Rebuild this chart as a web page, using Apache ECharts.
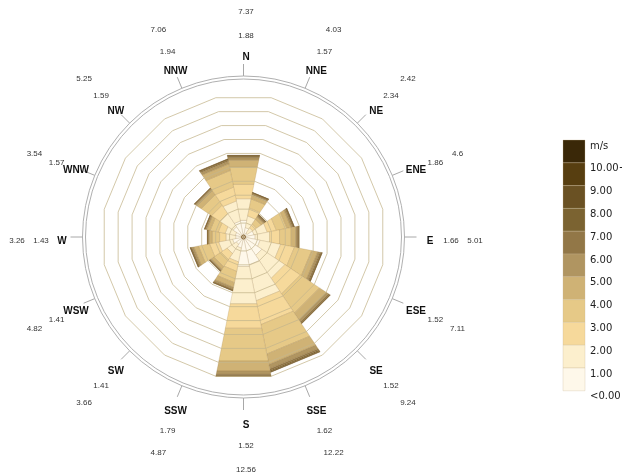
<!DOCTYPE html>
<html>
<head>
<meta charset="utf-8">
<script src="https://cdn.jsdelivr.net/npm/echarts@6/dist/echarts.min.js"></script>
<style>
  html, body { margin: 0; padding: 0; background: #ffffff; }
  #chart { width: 622px; height: 475px; }
</style>
</head>
<body>
<div id="chart"></div>
<script>
// Wind directions, clockwise from north
const directions = ['N', 'NNE', 'NE', 'ENE', 'E', 'ESE', 'SE', 'SSE', 'S', 'SSW', 'SW', 'WSW', 'W', 'WNW', 'NW', 'NNW'];
// Total frequency of each direction (%)
const frequency = [7.37, 4.03, 2.42, 4.6, 5.01, 7.11, 9.24, 12.22, 12.56, 4.87, 3.66, 4.82, 3.26, 3.54, 5.25, 7.06];
// Mean wind speed of each direction (m/s)
const meanSpeed = [1.88, 1.57, 2.34, 1.86, 1.66, 1.52, 1.52, 1.62, 1.52, 1.79, 1.41, 1.41, 1.43, 1.57, 1.59, 1.94];

// Frequency (%) of each speed class, per direction
const speed0to1  = [1.50, 0.85, 0.42, 0.95, 1.05, 1.50, 1.95, 2.55, 2.66, 1.00, 0.78, 1.00, 0.70, 0.74, 1.10, 1.45];
const speed1to2  = [1.95, 1.05, 0.55, 1.20, 1.30, 1.85, 2.45, 3.20, 3.36, 1.25, 0.98, 1.25, 0.88, 0.92, 1.38, 1.80];
const speed2to3  = [1.30, 0.72, 0.42, 0.82, 0.90, 1.25, 1.65, 2.15, 2.21, 0.85, 0.64, 0.82, 0.58, 0.62, 0.92, 1.25];
const speed3to4  = [1.55, 0.82, 0.50, 0.95, 1.05, 1.55, 2.05, 2.65, 2.95, 1.02, 0.76, 1.00, 0.66, 0.73, 1.10, 1.50];
const speed4to5  = [0.62, 0.33, 0.24, 0.37, 0.40, 0.55, 0.70, 0.95, 0.90, 0.42, 0.29, 0.42, 0.26, 0.30, 0.45, 0.60];
const speed5to6  = [0.22, 0.12, 0.11, 0.14, 0.15, 0.20, 0.25, 0.38, 0.30, 0.17, 0.11, 0.17, 0.10, 0.12, 0.17, 0.24];
const speed6to7  = [0.10, 0.06, 0.07, 0.07, 0.07, 0.09, 0.09, 0.15, 0.09, 0.07, 0.04, 0.07, 0.04, 0.05, 0.06, 0.10];
const speed7to8  = [0.06, 0.04, 0.05, 0.04, 0.04, 0.06, 0.05, 0.09, 0.05, 0.04, 0.03, 0.04, 0.02, 0.025, 0.03, 0.05];
const speed8to9  = [0.04, 0.02, 0.03, 0.03, 0.02, 0.03, 0.03, 0.05, 0.02, 0.02, 0.01, 0.02, 0.01, 0.015, 0.02, 0.03];
const speed9to10 = [0.02, 0.01, 0.02, 0.02, 0.02, 0.02, 0.01, 0.03, 0.01, 0.02, 0.01, 0.02, 0.005, 0.01, 0.01, 0.02];
const speed10up  = [0.01, 0.01, 0.01, 0.01, 0.01, 0.01, 0.01, 0.02, 0.01, 0.01, 0.01, 0.01, 0.005, 0.01, 0.01, 0.02];

// Legend labels, top to bottom
const legendLabels = ['m/s', '10.00+', '9.00', '8.00', '7.00', '6.00', '5.00', '4.00', '3.00', '2.00', '1.00', '<0.00'];

const speedClasses = [speed0to1, speed1to2, speed2to3, speed3to4, speed4to5, speed5to6,
                      speed6to7, speed7to8, speed8to9, speed9to10, speed10up];
// Class colours, slowest to fastest
const classColors = ['#fef8ea', '#fcefcd', '#f6d99b', '#e6c987', '#cfb275', '#b09561',
                     '#927747', '#7b6331', '#6a5123', '#573e10', '#3a2808'];

const STEP = 360 / directions.length;
const RING_COUNT = 10;
const radiusMax = Math.max(...frequency);

// Stack the speed classes of each direction; outer edge equals the direction total
const wedgeData = [];
directions.forEach((d, i) => {
  const raw = speedClasses.map(c => c[i]);
  const sum = raw.reduce((a, b) => a + b, 0);
  const k = frequency[i] / sum;
  let acc = 0;
  raw.forEach((v, c) => {
    const start = acc;
    acc += v * k;
    wedgeData.push([i, c, start, acc]);
  });
});

const ringData = [];
for (let k = 1; k <= RING_COUNT; k++) ringData.push([k, 0]);

function normAngle(a) { return (a + 360) % 360; }

function wedgeItem(params, api) {
  const dir = api.value(0);
  const cls = api.value(1);
  const r0 = api.value(2);
  const r1 = api.value(3);
  const aL = normAngle(dir * STEP - STEP / 2);
  const aR = normAngle(dir * STEP + STEP / 2);
  const pts = [api.coord([r0, aL]), api.coord([r1, aL]), api.coord([r1, aR]), api.coord([r0, aR])];
  return {
    type: 'polygon',
    shape: { points: pts },
    style: { fill: classColors[cls], stroke: 'rgba(140,105,50,0.3)', lineWidth: 0.6 }
  };
}

function ringItem(params, api) {
  const r = api.value(0) * radiusMax / RING_COUNT;
  const pts = [];
  for (let i = 0; i < directions.length; i++) {
    pts.push(api.coord([r, normAngle(i * STEP - STEP / 2)]));
  }
  return {
    type: 'polygon',
    shape: { points: pts },
    style: { fill: 'none', stroke: 'rgba(196,182,140,0.75)', lineWidth: 1 }
  };
}

function textEl(text, x, y, font, color) {
  return {
    type: 'text',
    style: {
      text: text, x: x, y: y, font: font,
      fill: color, textFill: color,
      align: 'center', verticalAlign: 'middle',
      textAlign: 'center', textVerticalAlign: 'middle'
    }
  };
}

function frameItem(params, api) {
  const cs = params.coordSys;
  const cx = cs.cx, cy = cs.cy, R = cs.r;
  const children = [];
  [R + 16, R + 19].forEach(r => {
    children.push({ type: 'circle', shape: { cx: cx, cy: cy, r: r },
      style: { fill: 'none', stroke: '#b0b0b0', lineWidth: 1 } });
  });
  // centre marker
  children.push({ type: 'circle', shape: { cx: cx, cy: cy, r: 2 },
    style: { fill: 'none', stroke: '#8a6a3a', lineWidth: 1 } });
  const lx = cx + 2.5, ly = cy + 4;
  directions.forEach((d, i) => {
    const t = i * STEP * Math.PI / 180;
    const sx = Math.sin(t), sy = -Math.cos(t);
    children.push({ type: 'line',
      shape: { x1: cx + sx * (R + 19), y1: cy + sy * (R + 19), x2: cx + sx * (R + 31), y2: cy + sy * (R + 31) },
      style: { stroke: '#a8a8a8', lineWidth: 1 } });
    children.push(textEl(d, lx + sx * 184, ly + sy * 184, 'bold 10px "Liberation Sans", Arial, sans-serif', '#111'));
    children.push(textEl(String(meanSpeed[i]), lx + sx * 205, ly + sy * 205, '8px "Liberation Sans", Arial, sans-serif', '#333'));
    children.push(textEl(String(frequency[i]), lx + sx * 229, ly + sy * 229, '8px "Liberation Sans", Arial, sans-serif', '#333'));
  });
  return { type: 'group', children: children };
}

// Colour legend on the right
const legendX = 563, legendTop = 140, swatchW = 22, swatchH = 22.8;
const legendColors = classColors.slice().reverse();
const legendGraphics = [];
legendColors.forEach((c, i) => {
  legendGraphics.push({
    type: 'rect',
    shape: { x: legendX, y: legendTop + i * swatchH, width: swatchW, height: swatchH },
    style: { fill: c, stroke: 'rgba(200,185,150,0.6)', lineWidth: 0.5 }
  });
});
legendLabels.forEach((t, i) => {
  legendGraphics.push({
    type: 'text',
    x: 590, y: legendTop + i * swatchH + 6,
    style: {
      text: t, font: '10px "DejaVu Sans", Verdana, sans-serif',
      fill: '#222', textFill: '#222',
      align: 'left', verticalAlign: 'middle',
      textAlign: 'left', textVerticalAlign: 'middle'
    }
  });
});

const chart = echarts.init(document.getElementById('chart'), null, { renderer: 'canvas' });
chart.setOption({
  animation: false,
  backgroundColor: '#ffffff',
  polar: { center: [243.5, 237], radius: 142 },
  angleAxis: {
    type: 'value', min: 0, max: 360, startAngle: 90, clockwise: true,
    show: false, axisLine: { show: false }, splitLine: { show: false },
    axisTick: { show: false }, axisLabel: { show: false }
  },
  radiusAxis: {
    type: 'value', min: 0, max: radiusMax,
    show: false, axisLine: { show: false }, splitLine: { show: false },
    axisTick: { show: false }, axisLabel: { show: false }
  },
  series: [
    { type: 'custom', name: 'wedges', coordinateSystem: 'polar', z: 2,
      renderItem: wedgeItem, data: wedgeData, silent: true },
    { type: 'custom', name: 'rings', coordinateSystem: 'polar', z: 3,
      renderItem: ringItem, data: ringData, silent: true },
    { type: 'custom', name: 'frame', coordinateSystem: 'polar', z: 4,
      renderItem: frameItem, data: [[0, 0]], silent: true }
  ],
  graphic: legendGraphics
});
</script>
</body>
</html>
